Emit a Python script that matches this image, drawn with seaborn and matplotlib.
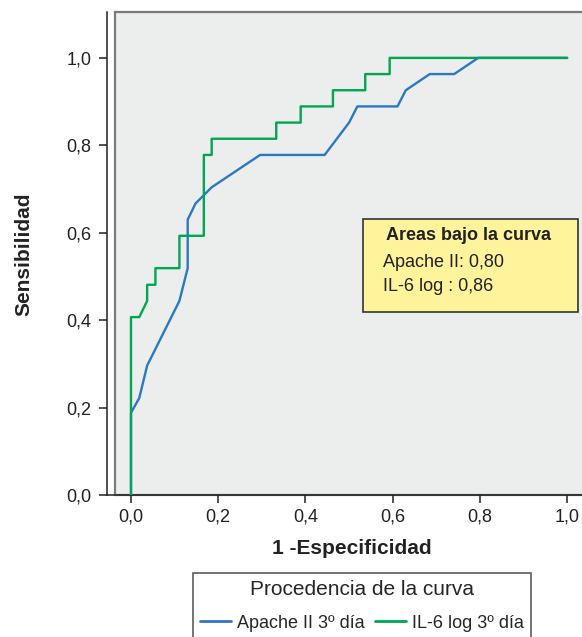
import matplotlib
matplotlib.use("Agg")
import matplotlib.pyplot as plt
from matplotlib.patches import Rectangle
from matplotlib.ticker import FuncFormatter
import seaborn as sns
import pandas as pd

# curvas ROC (1 - especificidad, sensibilidad)
apache_fpr = [0.0, 0.0, 0.019, 0.037, 0.111, 0.130, 0.130, 0.148, 0.185, 0.296,
              0.444, 0.500, 0.519, 0.611, 0.630, 0.685, 0.741, 0.796, 1.0]
apache_sens = [0.0, 0.188, 0.222, 0.296, 0.444, 0.519, 0.630, 0.667, 0.704, 0.778,
               0.778, 0.852, 0.889, 0.889, 0.926, 0.963, 0.963, 1.0, 1.0]

il6_fpr = [0.0, 0.0, 0.019, 0.037, 0.037, 0.056, 0.056, 0.111, 0.111, 0.167, 0.167,
           0.185, 0.185, 0.333, 0.333, 0.389, 0.389, 0.463, 0.463, 0.537, 0.537,
           0.593, 0.593, 1.0]
il6_sens = [0.0, 0.407, 0.407, 0.444, 0.481, 0.481, 0.519, 0.519, 0.593, 0.593, 0.778,
            0.778, 0.815, 0.815, 0.852, 0.852, 0.889, 0.889, 0.926, 0.926, 0.963,
            0.963, 1.0, 1.0]

curve_names = ["Apache II 3º día", "IL-6 log 3º día"]
curve_colors = ["#2a78c4", "#00a651"]
auc_labels = ["Apache II: 0,80", "IL-6 log : 0,86"]
ticks = [0.0, 0.2, 0.4, 0.6, 0.8, 1.0]

df = pd.concat([
    pd.DataFrame({"fpr": apache_fpr, "sens": apache_sens, "curva": curve_names[0]}),
    pd.DataFrame({"fpr": il6_fpr, "sens": il6_sens, "curva": curve_names[1]}),
], ignore_index=True)

sns.set_style("ticks")
plt.rcParams["font.family"] = ["Liberation Sans", "DejaVu Sans"]

W, H = 582, 637
fig = plt.figure(figsize=(W / 100, H / 100), dpi=100)
ax = fig.add_axes([107 / W, (H - 495) / H, 475 / W, 483 / H])

ax.set_xlim(-0.055, 1.034)
ax.set_ylim(0, 1.105)

# fondo gris del área de la curva
ax.add_patch(Rectangle((-0.037, 0), 1.2, 1.105, facecolor="#eceded",
                       edgecolor="#7a7a7a", lw=1.6, zorder=0, clip_on=False))

sns.lineplot(data=df, x="fpr", y="sens", hue="curva", palette=curve_colors,
             sort=False, estimator=None, lw=1.7, ax=ax, zorder=3)

for s in ["top", "right"]:
    ax.spines[s].set_visible(False)
ax.spines["left"].set_linewidth(1.1)
ax.spines["bottom"].set_linewidth(1.1)
ax.spines["left"].set_color("#222222")
ax.spines["bottom"].set_color("#222222")

fmt = FuncFormatter(lambda v, p: f"{v:.1f}".replace(".", ","))
ax.set_xticks(ticks)
ax.set_yticks(ticks)
ax.xaxis.set_major_formatter(fmt)
ax.yaxis.set_major_formatter(fmt)
ax.tick_params(axis="both", direction="out", length=6, width=1.1,
               labelsize=13, color="#222222", labelcolor="#222222")
ax.tick_params(axis="y", pad=5)
ax.tick_params(axis="x", pad=4)

ax.set_xlabel("1 -Especificidad", fontsize=15, fontweight="bold", color="#222222")
ax.set_ylabel("Sensibilidad", fontsize=15, fontweight="bold", color="#222222")
ax.xaxis.set_label_coords(0.516, -0.11)
ax.xaxis.label.set_va("center")
ax.yaxis.set_label_coords(-0.175, 0.499)
ax.yaxis.label.set_va("center")

# recuadro con las áreas bajo la curva
fig.patches.append(Rectangle((363 / W, (H - 312) / H), 215 / W, 93 / H,
                             transform=fig.transFigure, facecolor="#fff49c",
                             edgecolor="#333333", lw=1.2, zorder=5))
fig.text(386 / W, 1 - 235 / H, "Areas bajo la curva", fontsize=13,
         fontweight="bold", va="center", color="#222222", zorder=6)
fig.text(383 / W, 1 - 263 / H, auc_labels[0], fontsize=13, va="center",
         color="#222222", zorder=6)
fig.text(383 / W, 1 - 287 / H, auc_labels[1], fontsize=13, va="center",
         color="#222222", zorder=6)

handles, labels = ax.get_legend_handles_labels()
ax.get_legend().remove()
leg = fig.legend(handles, labels, title="Procedencia de la curva", ncol=2,
                 loc="upper center", bbox_to_anchor=(362 / W, 1 - 573 / H),
                 borderaxespad=0, fontsize=13, title_fontsize=15, frameon=True,
                 fancybox=False, edgecolor="#333333", handlelength=1.7,
                 handletextpad=0.35, columnspacing=0.6, borderpad=0.4,
                 labelspacing=0.85)
leg.get_frame().set_linewidth(1.2)
for line in leg.get_lines():
    line.set_linewidth(2)

fig.savefig("out.png", dpi=100)
